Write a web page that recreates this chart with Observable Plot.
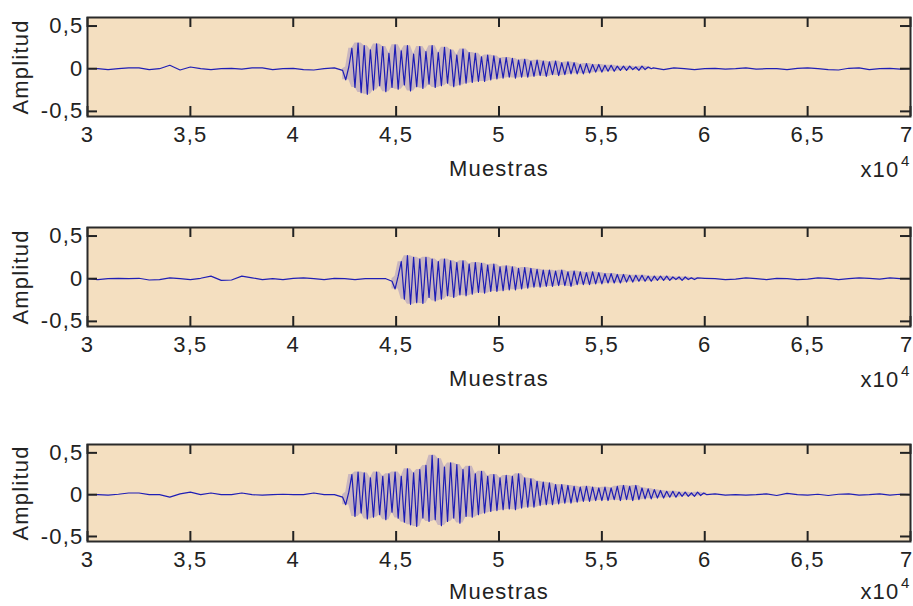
<!DOCTYPE html>
<html>
<head>
<meta charset="utf-8">
<script src="https://cdn.jsdelivr.net/npm/d3@7"></script>
<script src="https://cdn.jsdelivr.net/npm/@observablehq/plot@0.6"></script>
<style>
  html, body { margin: 0; padding: 0; background: #ffffff; }
  #wrap { position: relative; width: 913px; height: 606px; overflow: hidden; }
  .panel { position: absolute; left: 0; }
</style>
</head>
<body>
<div id="wrap"></div>
<script>
// ---------- axis values ----------
const xTicks = [30000, 35000, 40000, 45000, 50000, 55000, 60000, 65000, 70000];
const yTicks = [-0.5, 0, 0.5];
const xLabel = "Muestras";
const yLabel = "Amplitud";
const xFactorText = "x10";
const xFactorExp = "4";

// sampling of the read-off values (samples)
const quietStart = 30000, quietStep = 500, activeStep = 150;

// ---------- panel 1 ----------
const pre1 = [0, 0, -0.01, 0, 0.01, 0.01, -0.01, 0, 0.04, -0.015, 0.02, 0, -0.01, 0, 0.005, -0.005, 0.01, 0.01, -0.01, 0, 0.005, -0.01, -0.015, 0, 0.01];
const activeStart1 = 42400;
const active1 = [
  -0.02, -0.13, 0.02, 0.24, -0.22, 0.30, -0.28, 0.27, -0.30, 0.22,
  -0.25, 0.29, -0.20, 0.26, -0.27, 0.18, -0.22, 0.28, -0.24, 0.21,
  -0.19, 0.27, -0.26, 0.17, -0.21, 0.26, -0.23, 0.20, -0.18, 0.27,
  -0.22, 0.19, -0.20, 0.25, -0.17, 0.22, -0.21, 0.16, -0.19, 0.23,
  -0.17, 0.19, -0.16, 0.18, -0.15, 0.14, -0.15, 0.16, -0.13, 0.15,
  -0.12, 0.12, -0.11, 0.13, -0.10, 0.12, -0.11, 0.10, -0.10, 0.11,
  -0.10, 0.09, -0.09, 0.10, -0.08, 0.09, -0.09, 0.08, -0.07, 0.09,
  -0.08, 0.07, -0.07, 0.08, -0.06, 0.07, -0.06, 0.05, -0.06, 0.06,
  -0.05, 0.05, -0.04, 0.05, -0.04, 0.04, -0.03, 0.04, -0.03, 0.03,
  -0.02, 0.03, -0.02, 0.03, -0.01, 0.02, -0.02, 0.03, -0.01, 0.02, 0
];
const postStart1 = 57500;
const post1 = [0.01, -0.01, 0.01, 0, -0.01, 0, 0.005, -0.005, 0, 0.01, -0.005, 0, 0, -0.01, 0.005, 0.01, 0, -0.01, -0.015, 0.005, 0.01, -0.01, 0, 0.005, -0.005, 0];

// ---------- panel 2 ----------
const pre2 = [0, -0.01, 0, 0.005, 0, 0.005, -0.015, -0.01, 0.01, 0, -0.01, 0.005, 0.03, -0.02, -0.015, 0.03, 0.01, -0.01, 0, -0.01, 0.005, 0.01, 0, -0.01, 0.005, 0, -0.01, 0, 0, 0];
const activeStart2 = 44800;
const active2 = [
  -0.03, -0.12, 0.03, 0.20, -0.24, 0.27, -0.30, 0.25, -0.28, 0.23,
  -0.29, 0.25, -0.22, 0.23, -0.26, 0.20, -0.24, 0.23, -0.20, 0.21,
  -0.22, 0.19, -0.19, 0.21, -0.20, 0.17, -0.18, 0.19, -0.16, 0.18,
  -0.17, 0.16, -0.15, 0.17, -0.15, 0.14, -0.14, 0.15, -0.13, 0.14,
  -0.13, 0.12, -0.12, 0.13, -0.11, 0.12, -0.10, 0.11, -0.10, 0.10,
  -0.09, 0.10, -0.09, 0.09, -0.08, 0.10, -0.08, 0.08, -0.09, 0.09,
  -0.07, 0.08, -0.07, 0.07, -0.07, 0.08, -0.06, 0.07, -0.06, 0.06,
  -0.05, 0.06, -0.05, 0.05, -0.05, 0.05, -0.04, 0.04, -0.04, 0.04,
  -0.03, 0.04, -0.03, 0.03, -0.03, 0.03, -0.02, 0.03, -0.02, 0.03,
  -0.02, 0.02, -0.01, 0.02, -0.02, 0.02, -0.01, 0.01, -0.01, 0.01
];
const postStart2 = 60000;
const post2 = [0.005, 0, -0.01, -0.005, 0.01, 0, -0.01, 0.005, 0, -0.01, -0.005, 0.01, 0.005, -0.01, 0, 0.01, 0.005, -0.005, 0.01, 0, 0];

// ---------- panel 3 ----------
const pre3 = [0, 0, -0.005, 0.005, 0.02, 0.02, 0, 0, -0.03, 0.01, 0.03, 0, 0.02, 0, 0, 0.02, 0, -0.005, 0, 0.005, 0, 0, 0.02, 0, 0];
const activeStart3 = 42400;
const active3 = [
  -0.03, -0.12, 0.03, 0.24, -0.26, 0.27, -0.22, 0.26, -0.29, 0.20,
  -0.27, 0.27, -0.24, 0.22, -0.30, 0.25, -0.21, 0.27, -0.28, 0.22,
  -0.33, 0.31, -0.36, 0.26, -0.38, 0.30, -0.28, 0.35, -0.32, 0.47,
  -0.30, 0.43, -0.37, 0.33, -0.32, 0.38, -0.28, 0.36, -0.34, 0.30,
  -0.26, 0.34, -0.27, 0.25, -0.24, 0.28, -0.22, 0.22, -0.20, 0.24,
  -0.19, 0.20, -0.18, 0.23, -0.17, 0.22, -0.18, 0.25, -0.16, 0.20,
  -0.15, 0.19, -0.15, 0.16, -0.13, 0.15, -0.12, 0.14, -0.12, 0.12,
  -0.11, 0.12, -0.10, 0.11, -0.10, 0.10, -0.09, 0.09, -0.08, 0.10,
  -0.08, 0.09, -0.07, 0.08, -0.07, 0.09, -0.07, 0.08, -0.06, 0.10,
  -0.07, 0.11, -0.06, 0.10, -0.07, 0.11, -0.06, 0.08, -0.05, 0.07,
  -0.05, 0.06, -0.04, 0.05, -0.04, 0.04, -0.03, 0.04, -0.03, 0.03,
  -0.02, 0.03, -0.02, 0.02, -0.02, 0.03, -0.01, 0.02, 0
];
const postStart3 = 60500;
const post3 = [0.01, -0.005, 0, -0.005, 0, 0.01, -0.01, 0.015, 0, -0.005, 0.005, -0.01, 0.005, 0.01, -0.005, 0, 0.01, -0.005, 0.005, 0];

// ---------- build ----------
function buildSeries(pre, aStart, active, pStart, post) {
  const pts = [];
  pre.forEach((v, i) => pts.push({x: quietStart + i * quietStep, y: v}));
  active.forEach((v, i) => pts.push({x: aStart + i * activeStep, y: v}));
  post.forEach((v, i) => pts.push({x: pStart + i * quietStep, y: v}));
  return pts;
}
// band spanned by neighbouring peaks of the active part (the blurred halo)
function buildBand(aStart, active) {
  return active.map((v, i) => {
    const w = active.slice(Math.max(0, i - 1), i + 2);
    return {x: aStart + i * activeStep, lo: Math.min(0, ...w), hi: Math.max(0, ...w)};
  });
}

const panels = [
  {data: buildSeries(pre1, activeStart1, active1, postStart1, post1), band: buildBand(activeStart1, active1), top: 0,   plotH: 99, mb: 69, lo: 59, fdy: 53},
  {data: buildSeries(pre2, activeStart2, active2, postStart2, post2), band: buildBand(activeStart2, active2), top: 210, plotH: 99, mb: 69, lo: 59, fdy: 53},
  {data: buildSeries(pre3, activeStart3, active3, postStart3, post3), band: buildBand(activeStart3, active3), top: 427, plotH: 97, mb: 65, lo: 57, fdy: 50}
];

const W = 913, ML = 87, MR = 3, MT = 17;
const plotW = W - ML - MR;
const bg = "#f4dfc0";
const ink = "#222222";
const wave = "#1414b4";
const fmtX = d => String(d / 10000).replace(".", ",");
const fmtY = d => d === 0 ? "0" : String(d).replace(".", ",");
const tickLen = 10;
const xTicksInner = xTicks.slice(0, -1);
const xTickLast = xTicks.slice(-1);

const wrap = document.getElementById("wrap");
for (const p of panels) {
  const chart = Plot.plot({
    width: W,
    height: MT + p.plotH + p.mb,
    marginLeft: ML, marginRight: MR, marginTop: MT, marginBottom: p.mb,
    style: {fontFamily: "'Liberation Sans', Arial, sans-serif", fontSize: "22px", letterSpacing: "1.2px", color: ink, background: "transparent"},
    x: {domain: [30000, 70000]},
    y: {domain: [-0.56, 0.6]},
    marks: [
      Plot.frame({fill: bg, stroke: null}),
      Plot.areaY(p.band, {x: "x", y1: "lo", y2: "hi", fill: "#5a4cc0", fillOpacity: 0.28, curve: "linear"}),
      Plot.line(p.data, {x: "x", y: "y", stroke: wave, strokeWidth: 1.2, strokeOpacity: 0.95}),
      Plot.tickX(xTicks, {x: d => d, stroke: ink, strokeWidth: 2, insetBottom: p.plotH - tickLen}),
      Plot.tickX(xTicks, {x: d => d, stroke: ink, strokeWidth: 2, insetTop: p.plotH - tickLen}),
      Plot.tickY(yTicks, {y: d => d, stroke: ink, strokeWidth: 2, insetRight: plotW - tickLen}),
      Plot.tickY(yTicks, {y: d => d, stroke: ink, strokeWidth: 2, insetLeft: plotW - tickLen}),
      Plot.axisX({ticks: xTicksInner, tickFormat: fmtX, tickSize: 0, tickPadding: 10, label: xLabel, labelAnchor: "center", labelArrow: "none", labelOffset: p.lo, fill: ink}),
      Plot.text(xTickLast, {x: d => d, text: fmtX, frameAnchor: "bottom", dy: 10, dx: 3, textAnchor: "end", lineAnchor: "top", fill: ink, fontSize: 22}),
      Plot.axisY({ticks: yTicks, tickFormat: fmtY, tickSize: 0, tickPadding: 4, label: yLabel, labelAnchor: "center", labelArrow: "none", labelOffset: 75, fill: ink}),
      Plot.frame({stroke: "#2a2a2a", strokeWidth: 2}),
      Plot.text([xFactorText], {frameAnchor: "bottom-right", dx: -11, dy: p.fdy, textAnchor: "end", lineAnchor: "middle", fill: ink, fontSize: 22}),
      Plot.text([xFactorExp], {frameAnchor: "bottom-right", dx: 0, dy: p.fdy - 8, textAnchor: "end", lineAnchor: "middle", fill: ink, fontSize: 15})
    ]
  });
  const div = document.createElement("div");
  div.className = "panel";
  div.style.top = p.top + "px";
  div.appendChild(chart);
  wrap.appendChild(div);
}
</script>
</body>
</html>
